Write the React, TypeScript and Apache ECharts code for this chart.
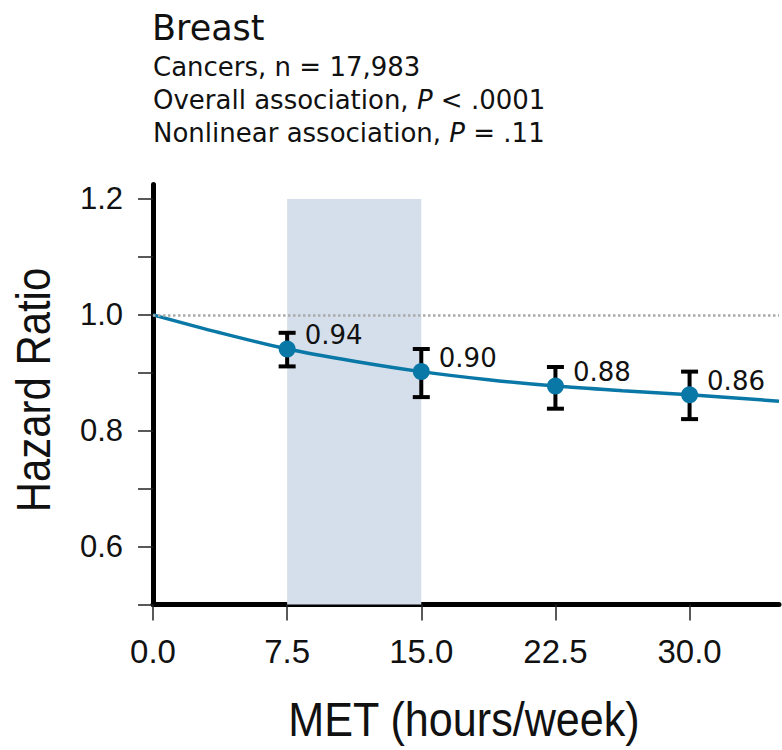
import React, { useEffect, useRef } from "react";
import * as echarts from "echarts";

const titleText = "Breast";
const subtitleLines = [
  "Cancers, n = 17,983",
  "Overall association, {i|P} < .0001",
  "Nonlinear association, {i|P} = .11",
];
const xAxisName = "MET (hours/week)";
const yAxisName = "Hazard Ratio";
const xTickValues = [0, 7.5, 15, 22.5, 30];
const yLabelValues = [0.6, 0.8, 1.0, 1.2];
const yTickValues = [0.5, 0.6, 0.7, 0.8, 0.9, 1.0, 1.1, 1.2];
const curveX = [0, 3.75, 7.5, 11.25, 15, 18.75, 22.5, 26.25, 30, 35];
const curveHR = [1.0, 0.969, 0.941, 0.92, 0.902, 0.888, 0.877, 0.869, 0.862, 0.851];
const pointX = [7.5, 15, 22.5, 30];
const pointHR = [0.941, 0.902, 0.877, 0.862];
const pointLabels = ["0.94", "0.90", "0.88", "0.86"];
const ciLow = [0.911, 0.858, 0.838, 0.82];
const ciHigh = [0.969, 0.941, 0.91, 0.902];
const bandX = [7.5, 15];
const bandY = [0.5, 1.2];
const refHR = 1.0;

const BLUE = "#0a78a6";

export default function App() {
  const ref = useRef<HTMLDivElement>(null);
  useEffect(() => {
    if (!ref.current) return;
    const chart = echarts.init(ref.current, null, { renderer: "svg" });
    const subFont = "DejaVu Sans";
    chart.setOption({
      animation: false,
      backgroundColor: "#ffffff",
      graphic: [
        {
          type: "text",
          x: 152,
          y: 28,
          style: {
            text: titleText,
            font: `35px "${subFont}"`,
            fill: "#111",
            verticalAlign: "middle",
          },
        },
        ...subtitleLines.map((t, i) => ({
          type: "text",
          x: 153,
          y: 67 + i * 33,
          style: {
            text: t,
            font: `26px "${subFont}"`,
            fill: "#111",
            verticalAlign: "middle",
            rich: {
              i: { fontStyle: "italic", fontSize: 26, fontFamily: subFont, fill: "#111" },
            },
          },
        })),
        {
          type: "text",
          x: 464,
          y: 719,
          scaleX: 0.88,
          style: {
            text: xAxisName,
            font: `49px "Liberation Sans"`,
            fill: "#111",
            align: "center",
            verticalAlign: "middle",
          },
        },
        {
          type: "text",
          x: 33,
          y: 390,
          rotation: Math.PI / 2,
          scaleX: 0.855,
          style: {
            text: yAxisName,
            font: `49px "Liberation Sans"`,
            fill: "#111",
            align: "center",
            verticalAlign: "middle",
          },
        },
      ],
      grid: { left: 153, top: 184.5, right: 3, height: 420 },
      xAxis: {
        type: "value",
        min: 0,
        max: 35,
        interval: 7.5,
        axisLine: { show: true, lineStyle: { color: "#000", width: 5 } },
        axisTick: {
          show: true,
          length: 16,
          customValues: xTickValues,
          lineStyle: { color: "#222", width: 1.5 },
        },
        axisLabel: {
          customValues: xTickValues,
          margin: 30,
          fontSize: 33,
          fontFamily: "Liberation Sans",
          color: "#111",
          formatter: (v: number) => v.toFixed(1),
        },
        splitLine: { show: false },
      },
      yAxis: {
        type: "value",
        min: 0.5,
        max: 1.225,
        axisLine: { show: true, lineStyle: { color: "#000", width: 5 } },
        axisTick: {
          show: true,
          length: 15,
          customValues: yTickValues,
          lineStyle: { color: "#222", width: 1.5 },
        },
        axisLabel: {
          customValues: yLabelValues,
          margin: 30,
          fontSize: 31,
          fontFamily: "Liberation Sans",
          color: "#111",
          formatter: (v: number) => v.toFixed(1),
        },
        splitLine: { show: false },
      },
      series: [
        {
          type: "line",
          z: 1,
          data: [],
          silent: true,
          markArea: {
            silent: true,
            itemStyle: { color: "#d5dfeb" },
            data: [[{ xAxis: bandX[0], yAxis: bandY[0] }, { xAxis: bandX[1], yAxis: bandY[1] }]],
          },
          markLine: {
            silent: true,
            symbol: "none",
            label: { show: false },
            lineStyle: { type: "dotted", color: "#aaaaaa", width: 2.5 },
            data: [{ yAxis: refHR }],
          },
        },
        {
          type: "line",
          z: 2,
          data: curveX.map((x, i) => [x, curveHR[i]]),
          smooth: 0.3,
          showSymbol: false,
          lineStyle: { color: BLUE, width: 3.5 },
        },
        {
          type: "custom",
          z: 3,
          data: pointX.map((x, i) => [x, ciLow[i], ciHigh[i]]),
          encode: { x: 0, y: [1, 2] },
          renderItem: (params: any, api: any) => {
            const x = api.value(0);
            const lo = api.coord([x, api.value(1)]);
            const hi = api.coord([x, api.value(2)]);
            const hw = 8.5;
            const st = { stroke: "#000", lineWidth: 4 };
            return {
              type: "group",
              children: [
                { type: "line", shape: { x1: lo[0], y1: lo[1], x2: hi[0], y2: hi[1] }, style: st },
                { type: "line", shape: { x1: lo[0] - hw, y1: lo[1], x2: lo[0] + hw, y2: lo[1] }, style: st },
                { type: "line", shape: { x1: hi[0] - hw, y1: hi[1], x2: hi[0] + hw, y2: hi[1] }, style: st },
              ],
            };
          },
        },
        {
          type: "scatter",
          z: 4,
          data: pointX.map((x, i) => [x, pointHR[i]]),
          symbol: "circle",
          symbolSize: 17,
          itemStyle: { color: BLUE, opacity: 1 },
          label: {
            show: true,
            position: "right",
            distance: 5,
            offset: [4, -14],
            formatter: (p: any) => pointLabels[p.dataIndex],
            fontSize: 26,
            fontFamily: "DejaVu Sans",
            color: "#111",
            opacity: 1,
          },
        },
      ],
    });
    return () => chart.dispose();
  }, []);
  return <div ref={ref} style={{ width: 782, height: 750, position: "absolute", left: 0, top: 0 }} />;
}
